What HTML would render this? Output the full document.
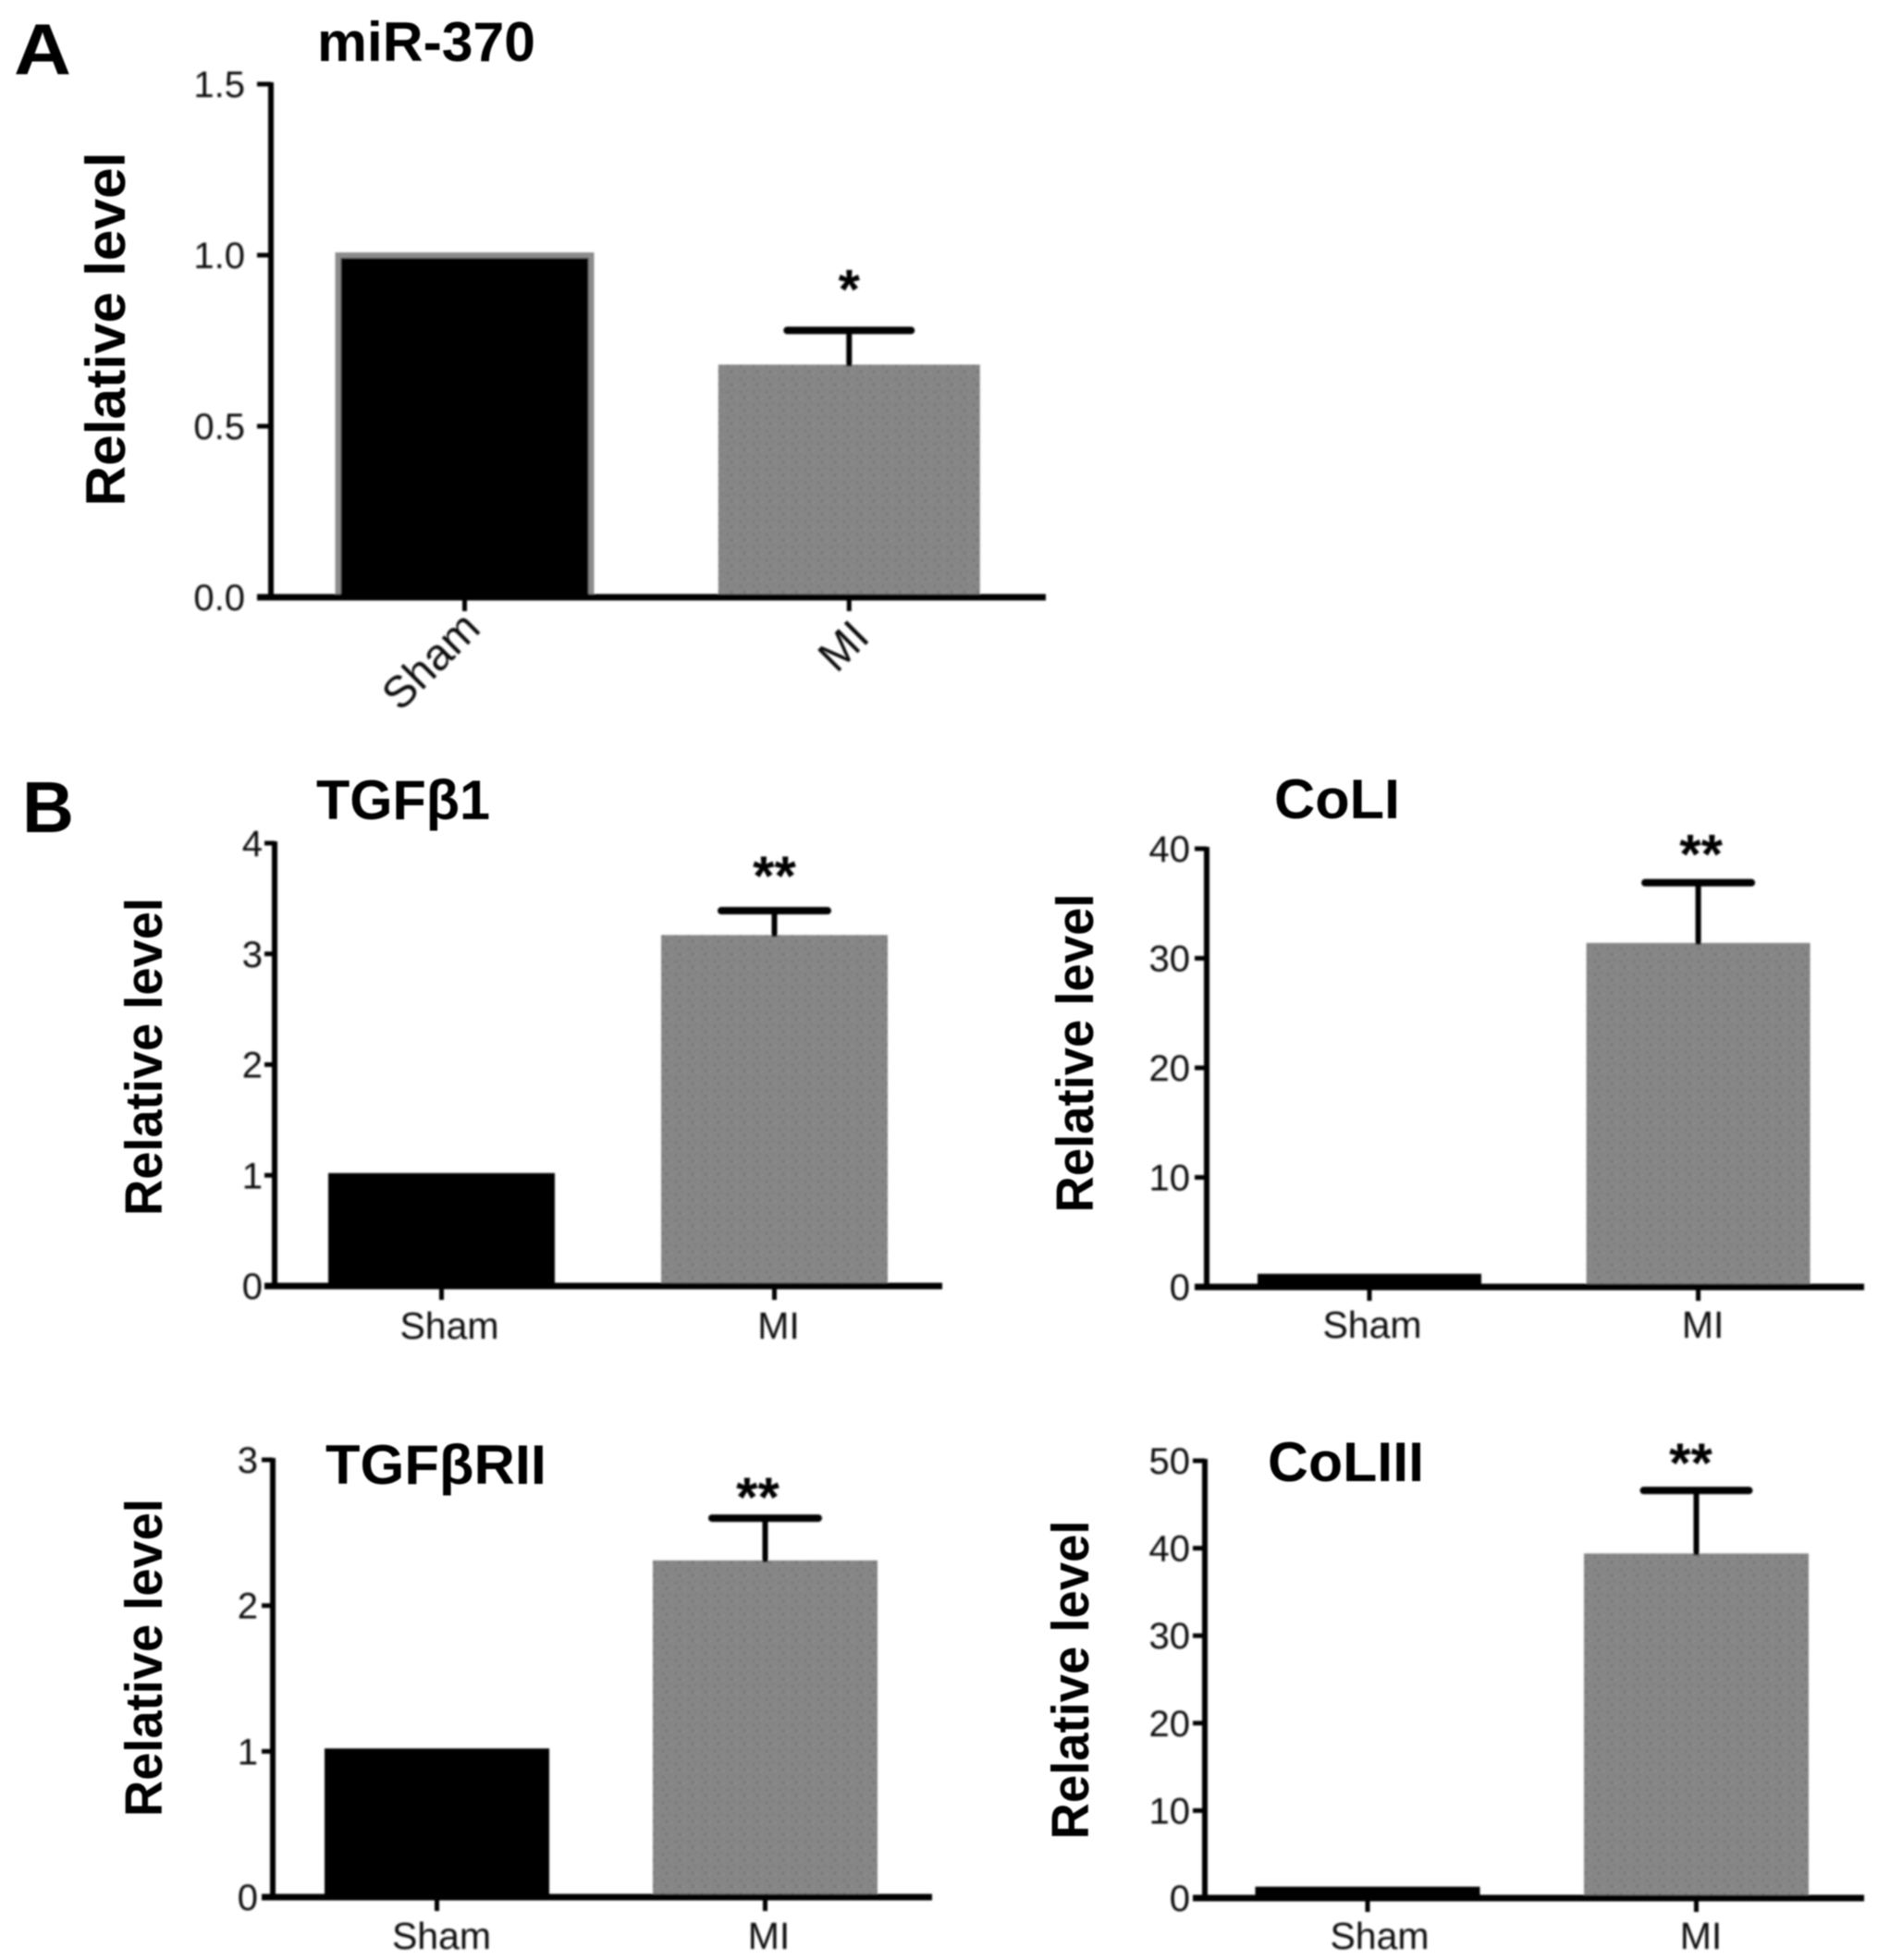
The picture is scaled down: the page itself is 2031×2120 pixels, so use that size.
<!DOCTYPE html>
<html lang="en">
<head>
<meta charset="utf-8">
<title>miR-370 and fibrosis markers relative levels</title>
<style>
  html, body { margin: 0; padding: 0; background: #fff; }
  #figure { display: block; width: 2031px; height: 2120px; }
  text { font-family: "Liberation Sans", "DejaVu Sans", sans-serif; fill: #111; }
  .panel-letter { font-weight: bold; font-size: 78px; fill: #000; }
  .panel-title { font-weight: bold; font-size: 60px; fill: #000; }
  .y-title { font-weight: bold; font-size: 57px; fill: #000; text-anchor: middle; }
  .tick-label { font-size: 40px; text-anchor: end; fill: #111; }
  .cat-label { font-size: 41px; text-anchor: middle; fill: #111; }
  .star { font-weight: bold; font-size: 60px; text-anchor: middle; fill: #000; }
</style>
</head>
<body>
<svg id="figure" xmlns="http://www.w3.org/2000/svg" width="2031" height="2120" viewBox="0 0 2031 2120">
  <defs>
    <filter id="soft" x="-2%" y="-2%" width="104%" height="104%"><feGaussianBlur stdDeviation="0.9"/></filter>
    <pattern id="stipple" width="14" height="14" patternUnits="userSpaceOnUse">
      <rect width="14" height="14" fill="#868686"/>
      <circle cx="3" cy="4" r="1.4" fill="#767676"/>
      <circle cx="10" cy="2" r="1.1" fill="#7a7a7a"/>
      <circle cx="7" cy="10" r="1.5" fill="#747474"/>
      <circle cx="12" cy="11" r="1" fill="#929292"/>
    </pattern>
  </defs>
  <rect width="2031" height="2120" fill="#fff"/>
  <g filter="url(#soft)">
    <text class="panel-letter" x="15" y="80" textLength="62" lengthAdjust="spacingAndGlyphs">A</text>
    <text class="panel-letter" x="24" y="900" textLength="56" lengthAdjust="spacingAndGlyphs">B</text>

    <g id="panel-mir370">
      <text class="panel-title" x="343" y="66" textLength="236" lengthAdjust="spacingAndGlyphs">miR-370</text>
      <text class="y-title" style="font-size:60px" transform="translate(135 356) rotate(-90)" textLength="383" lengthAdjust="spacingAndGlyphs">Relative level</text>
    </g>
    <g id="panel-tgfb1">
      <text class="panel-title" x="342" y="886" textLength="188" lengthAdjust="spacingAndGlyphs">TGFβ1</text>
      <text class="y-title" transform="translate(175 1143) rotate(-90)" textLength="344" lengthAdjust="spacingAndGlyphs">Relative level</text>
    </g>
    <g id="panel-col1">
      <text class="panel-title" x="1378" y="885" textLength="136" lengthAdjust="spacingAndGlyphs">CoLI</text>
      <text class="y-title" transform="translate(1182 1139) rotate(-90)" textLength="345" lengthAdjust="spacingAndGlyphs">Relative level</text>
    </g>
    <g id="panel-tgfbr2">
      <text class="panel-title" x="352" y="1605" textLength="239" lengthAdjust="spacingAndGlyphs">TGFβRII</text>
      <text class="y-title" transform="translate(175 1793) rotate(-90)" textLength="344" lengthAdjust="spacingAndGlyphs">Relative level</text>
    </g>
    <g id="panel-col3">
      <text class="panel-title" x="1371" y="1602" textLength="169" lengthAdjust="spacingAndGlyphs">CoLIII</text>
      <text class="y-title" transform="translate(1177 1817) rotate(-90)" textLength="345" lengthAdjust="spacingAndGlyphs">Relative level</text>
    </g>
  </g>
</svg>
<script>
// ---- chart data ----
const categories = ['Sham', 'MI'];

const mir370Values = [1.0, 0.68];
const mir370ErrorTops = [null, 0.78];
const mir370Stars = ['', '*'];
const mir370Ticks = ['0.0', '0.5', '1.0', '1.5'];

const tgfb1Values = [1.02, 3.17];
const tgfb1ErrorTops = [null, 3.39];
const tgfb1Stars = ['', '**'];
const tgfb1Ticks = ['0', '1', '2', '3', '4'];

const col1Values = [1.2, 31.4];
const col1ErrorTops = [null, 36.9];
const col1Stars = ['', '**'];
const col1Ticks = ['0', '10', '20', '30', '40'];

const tgfbr2Values = [1.02, 2.31];
const tgfbr2ErrorTops = [null, 2.6];
const tgfbr2Stars = ['', '**'];
const tgfbr2Ticks = ['0', '1', '2', '3'];

const col3Values = [1.3, 39.4];
const col3ErrorTops = [null, 46.6];
const col3Stars = ['', '**'];
const col3Ticks = ['0', '10', '20', '30', '40', '50'];

// ---- drawing ----
const SVG_NS = 'http://www.w3.org/2000/svg';

function svgNode(tag, parent, attrs) {
  const node = document.createElementNS(SVG_NS, tag);
  Object.keys(attrs).forEach(function (key) { node.setAttribute(key, attrs[key]); });
  parent.appendChild(node);
  return node;
}

function drawPanel(cfg) {
  const root = document.getElementById(cfg.id);
  const g = svgNode('g', root, {});
  g.setAttribute('filter', 'url(#soft)');
  const yMax = parseFloat(cfg.ticks[cfg.ticks.length - 1]);
  const yScale = function (v) { return cfg.y0 - (v / yMax) * (cfg.y0 - cfg.yTop); };
  const xScale = function (i) { return cfg.firstCenter + i * cfg.step; };
  const key = cfg.key;

  cfg.values.forEach(function (value, i) {
    const cat = categories[i].toLowerCase();
    const cx = xScale(i);
    const top = yScale(value);
    const w = (i === 0 && cfg.shamOutline) ? cfg.barWidth - 9 : cfg.barWidth;
    const bar = svgNode('rect', g, {
      x: cx - w / 2, y: top, width: w, height: cfg.y0 - top,
      fill: i === 0 ? '#000' : 'url(#stipple)'
    });
    
    
    if (i === 0 && cfg.shamOutline) {
      bar.setAttribute('stroke', '#8c8c8c');
      bar.setAttribute('stroke-width', '6');
    }

    if (cfg.errorTops[i] !== null) {
      const errY = yScale(cfg.errorTops[i]);
      const stem = svgNode('line', g, { x1: cx, x2: cx, y1: top + 2, y2: errY, stroke: '#000', 'stroke-width': 6 });
      
      
      const cap = svgNode('line', g, {
        x1: cx - cfg.capWidth / 2, x2: cx + cfg.capWidth / 2, y1: errY, y2: errY,
        stroke: '#000', 'stroke-width': 8, 'stroke-linecap': 'round'
      });
      
      
    }

    if (cfg.stars[i]) {
      const star = svgNode('text', g, {
        class: 'star', x: cx + cfg.starDx, y: yScale(cfg.errorTops[i]) - cfg.starGap + 33
      });
      star.textContent = cfg.stars[i];
      
      
    }

    const xTick = svgNode('line', g, {
      x1: cx, x2: cx, y1: cfg.y0, y2: cfg.y0 + 15, stroke: '#000', 'stroke-width': 5
    });
    
    

    const label = svgNode('text', g, { class: 'cat-label' });
    label.textContent = categories[i];
    if (cfg.rotateLabels) {
      const lx = cx + cfg.labelRotDx[i];
      const ly = cfg.y0 + cfg.labelRotDy[i];
      label.setAttribute('transform', 'translate(' + lx + ' ' + ly + ') rotate(-45)');
      label.setAttribute('y', '16');
      label.setAttribute('style', 'font-size:48px');
    } else {
      label.setAttribute('x', cx + cfg.labelDx[i]);
      label.setAttribute('y', cfg.labelY);
    }
    
    
  });

  const yAxis = svgNode('line', g, {
    x1: cfg.axisX, x2: cfg.axisX, y1: cfg.yTop - 2, y2: cfg.y0 + 2, stroke: '#000', 'stroke-width': 6
  });
  
  

  const xAxis = svgNode('line', g, {
    x1: cfg.tickStart, x2: cfg.xEnd, y1: cfg.y0, y2: cfg.y0, stroke: '#000', 'stroke-width': 7
  });
  
  

  cfg.ticks.forEach(function (tick) {
    const y = yScale(parseFloat(tick));
    const mark = svgNode('line', g, {
      x1: cfg.tickStart, x2: cfg.axisX, y1: y, y2: y, stroke: '#000', 'stroke-width': 5
    });
    
    
    const label = svgNode('text', g, { class: 'tick-label', x: cfg.tickLabelRight, y: y + 14 });
    label.textContent = tick;
    
    
  });
}

drawPanel({
  id: 'panel-mir370', key: 'mir-370',
  values: mir370Values, errorTops: mir370ErrorTops, stars: mir370Stars, ticks: mir370Ticks,
  axisX: 293, tickStart: 278, xEnd: 1131, y0: 646, yTop: 91, tickLabelRight: 265,
  firstCenter: 502.5, step: 415.8, barWidth: 283, capWidth: 134, starDx: 0, starGap: 57,
  shamOutline: true, rotateLabels: true, labelRotDx: [-36.5, -6], labelRotDy: [69, 53]
});
drawPanel({
  id: 'panel-tgfb1', key: 'tgfb1',
  values: tgfb1Values, errorTops: tgfb1ErrorTops, stars: tgfb1Stars, ticks: tgfb1Ticks,
  axisX: 297, tickStart: 286, xEnd: 1019, y0: 1391, yTop: 912, tickLabelRight: 284,
  firstCenter: 477.5, step: 360, barWidth: 245, capWidth: 115, starDx: 0, starGap: 50,
  labelDx: [8.5, 4.5], labelY: 1448
});
drawPanel({
  id: 'panel-col1', key: 'col1',
  values: col1Values, errorTops: col1ErrorTops, stars: col1Stars, ticks: col1Ticks,
  axisX: 1305, tickStart: 1292, xEnd: 2016, y0: 1392, yTop: 918, tickLabelRight: 1287,
  firstCenter: 1481, step: 355.6, barWidth: 242, capWidth: 115, starDx: 3, starGap: 43,
  labelDx: [3, 5], labelY: 1447
});
drawPanel({
  id: 'panel-tgfbr2', key: 'tgfbr2',
  values: tgfbr2Values, errorTops: tgfbr2ErrorTops, stars: tgfbr2Stars, ticks: tgfbr2Ticks,
  axisX: 295, tickStart: 283, xEnd: 1008, y0: 2052, yTop: 1579, tickLabelRight: 279,
  firstCenter: 472.5, step: 355, barWidth: 243, capWidth: 115, starDx: -8, starGap: 35,
  labelDx: [5, 4], labelY: 2108
});
drawPanel({
  id: 'panel-col3', key: 'col3',
  values: col3Values, errorTops: col3ErrorTops, stars: col3Stars, ticks: col3Ticks,
  axisX: 1303, tickStart: 1290, xEnd: 2016, y0: 2053, yTop: 1580, tickLabelRight: 1287,
  firstCenter: 1479, step: 355.5, barWidth: 243, capWidth: 114, starDx: -6, starGap: 42,
  labelDx: [13, 5], labelY: 2108
});
</script>
</body>
</html>
